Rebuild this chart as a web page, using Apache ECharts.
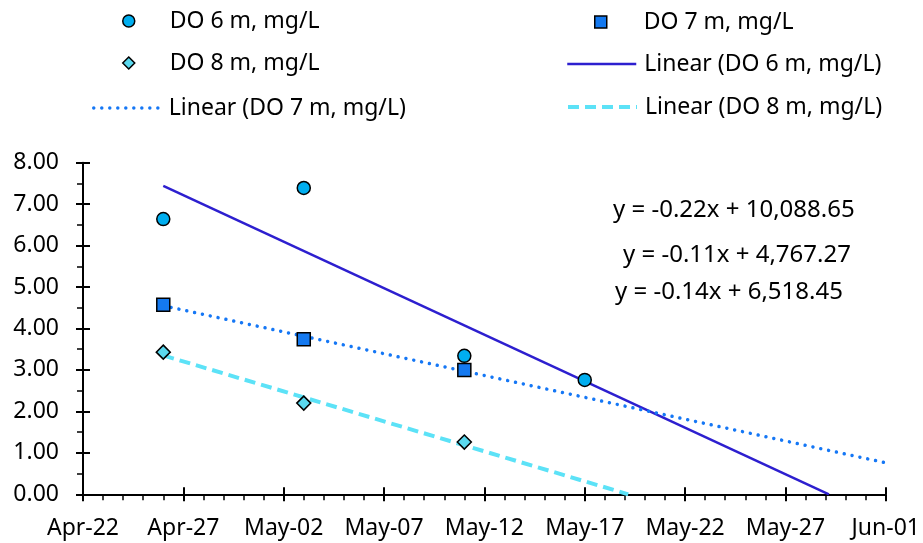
<!DOCTYPE html>
<html><head><meta charset="utf-8">
<script src="https://cdn.jsdelivr.net/npm/echarts@6/dist/echarts.min.js"></script>
<style>html,body{margin:0;padding:0;background:#fff}#c{width:923px;height:543px}</style>
</head><body><div id="c"></div>
<script>
// ---- data ----
const dates6 = ['2024-04-26', '2024-05-03', '2024-05-11', '2024-05-17'];
const dates78 = ['2024-04-26', '2024-05-03', '2024-05-11'];
const do6 = [6.64, 7.39, 3.34, 2.76];
const do7 = [4.57, 3.74, 3.00];
const do8 = [3.43, 2.20, 1.26];
const trend6Dates = ['2024-04-26T00:00', '2024-05-29T04:00'];
const trend6 = [7.44, 0];
const trend7Dates = ['2024-04-26T00:00', '2024-06-01T00:00'];
const trend7 = [4.55, 0.76];
const trend8Dates = ['2024-04-26T00:00', '2024-05-19T04:00'];
const trend8 = [3.35, 0];
const xTickLabels = ['Apr-22', 'Apr-27', 'May-02', 'May-07', 'May-12', 'May-17', 'May-22', 'May-27', 'Jun-01'];
const equations = ['y = -0.22x + 10,088.65', 'y = -0.11x + 4,767.27', 'y = -0.14x + 6,518.45'];
const names = ['DO 6 m, mg/L', 'DO 7 m, mg/L', 'DO 8 m, mg/L'];
const trendNames = ['Linear (DO 6 m, mg/L)', 'Linear (DO 7 m, mg/L)', 'Linear (DO 8 m, mg/L)'];
const axisStart = '2024-04-22';
const axisEnd = '2024-06-01';

// ---- helpers ----
function day(s) {
  const t = s.length === 10 ? s + 'T00:00' : s;
  return (Date.parse(t + ':00Z') - Date.parse(axisStart + 'T00:00:00Z')) / 86400000;
}
const pairs = (ds, vs) => ds.map((d, i) => [day(d), vs[i]]);

const FONT = 'Noto Sans';
const C6 = '#00AEEF', C7 = '#1479F0', C8 = '#5AD8EE';
const T6 = '#2D1FCF', T7 = '#1577F5', T8 = '#5CE2F7';
const DOT = [0.01, 8];
const DASH = [11, 6];

const chart = echarts.init(document.getElementById('c'), null, {renderer: 'canvas'});

function txt(pad) {
  return {fontFamily: FONT, fontSize: 23, color: '#000', lineHeight: 26, padding: [0, 0, 0, pad]};
}
function legendBox(name, left, top, opts) {
  return Object.assign({
    data: [name], left: left, top: top, padding: 0, orient: 'horizontal',
    selectedMode: false
  }, opts);
}
const hiddenSymbol = {color: 'rgba(0,0,0,0)', borderWidth: 0, opacity: 0};

const xMax = day(axisEnd + 'T00:00');
const baseX = {type: 'value', min: 0, max: xMax, interval: 5, gridIndex: 0, splitLine: {show: false}};
const baseY = {type: 'value', min: 0, max: 8, interval: 1, gridIndex: 0, splitLine: {show: false}};

const option = {
  animation: false,
  backgroundColor: '#fff',
  textStyle: {fontFamily: FONT},
  grid: {left: 83, right: 37, top: 162.7, bottom: 48.7},
  xAxis: [
    Object.assign({}, baseX, {
      position: 'bottom',
      axisLine: {show: true, lineStyle: {color: '#000', width: 2}},
      axisTick: {show: true, inside: false, length: 7, lineStyle: {color: '#000', width: 2}},
      minorTick: {show: true, splitNumber: 5, length: 6, lineStyle: {color: '#000', width: 1.5}},
      axisLabel: {color: '#000', fontFamily: FONT, fontSize: 23, margin: 23,
        formatter: v => xTickLabels[Math.round(v / 5)] || ''}
    }),
    Object.assign({}, baseX, {
      position: 'bottom',
      axisLine: {show: false},
      axisTick: {show: true, inside: true, length: 7, lineStyle: {color: '#000', width: 2}},
      axisLabel: {show: false}
    })
  ],
  yAxis: [
    Object.assign({}, baseY, {
      position: 'left',
      axisLine: {show: true, lineStyle: {color: '#000', width: 2}},
      axisTick: {show: true, inside: false, length: 7, lineStyle: {color: '#000', width: 2}},
      minorTick: {show: true, splitNumber: 2, length: 6, lineStyle: {color: '#000', width: 1.5}},
      axisLabel: {color: '#000', fontFamily: FONT, fontSize: 23, margin: 24,
        formatter: v => v.toFixed(2)}
    }),
    Object.assign({}, baseY, {
      position: 'left',
      axisLine: {show: false},
      axisTick: {show: true, inside: true, length: 7, lineStyle: {color: '#000', width: 2}},
      axisLabel: {show: false}
    })
  ],
  legend: [
    legendBox(names[0], 122, 8, {itemWidth: 12, itemHeight: 12,
      itemStyle: {borderColor: '#000', borderWidth: 1.5}, textStyle: txt(30)}),
    legendBox(names[1], 594, 9, {itemWidth: 12, itemHeight: 12,
      itemStyle: {borderColor: '#000', borderWidth: 1.5}, textStyle: txt(32)}),
    legendBox(names[2], 122, 50, {itemWidth: 12, itemHeight: 12,
      itemStyle: {borderColor: '#000', borderWidth: 1.5}, textStyle: txt(30)}),
    legendBox(trendNames[0], 566, 51, {itemWidth: 69, itemHeight: 12,
      itemStyle: hiddenSymbol, lineStyle: {width: 2.5, type: 'solid'}, textStyle: txt(3)}),
    legendBox(trendNames[1], 92, 95, {itemWidth: 70, itemHeight: 12,
      itemStyle: hiddenSymbol, lineStyle: {width: 3.5, type: DOT, cap: 'round'}, textStyle: txt(0)}),
    legendBox(trendNames[2], 566, 94, {itemWidth: 69, itemHeight: 12,
      itemStyle: hiddenSymbol, lineStyle: {width: 4, type: DASH}, textStyle: txt(3)})
  ],
  graphic: [
    {type: 'text', left: 613, top: 198, silent: true,
      style: {text: equations[0], font: '24px "Noto Sans"', fill: '#000'}},
    {type: 'text', left: 623, top: 243, silent: true,
      style: {text: equations[1], font: '24px "Noto Sans"', fill: '#000'}},
    {type: 'text', left: 615, top: 280, silent: true,
      style: {text: equations[2], font: '24px "Noto Sans"', fill: '#000'}}
  ],
  series: [
    {name: trendNames[0], type: 'line', data: pairs(trend6Dates, trend6), symbol: 'none', silent: true,
      lineStyle: {color: T6, width: 2.5}, itemStyle: {color: T6}, z: 2},
    {name: trendNames[1], type: 'line', data: pairs(trend7Dates, trend7), symbol: 'none', silent: true,
      lineStyle: {color: T7, width: 3.5, type: DOT, cap: 'round'}, itemStyle: {color: T7}, z: 2},
    {name: trendNames[2], type: 'line', data: pairs(trend8Dates, trend8), symbol: 'none', silent: true,
      lineStyle: {color: T8, width: 4, type: DASH}, itemStyle: {color: T8}, z: 2},
    {name: names[0], type: 'scatter', data: pairs(dates6, do6), symbol: 'circle', symbolSize: 13,
      itemStyle: {color: C6, borderColor: '#000', borderWidth: 1.5, opacity: 1}, z: 3},
    {name: names[1], type: 'scatter', data: pairs(dates78, do7), symbol: 'rect', symbolSize: 13,
      itemStyle: {color: C7, borderColor: '#000', borderWidth: 1.5, opacity: 1}, z: 3},
    {name: names[2], type: 'scatter', data: pairs(dates78, do8), symbol: 'diamond', symbolSize: 14,
      itemStyle: {color: C8, borderColor: '#000', borderWidth: 1.5, opacity: 1}, z: 3}
  ]
};
chart.setOption(option);
</script>
</body></html>
